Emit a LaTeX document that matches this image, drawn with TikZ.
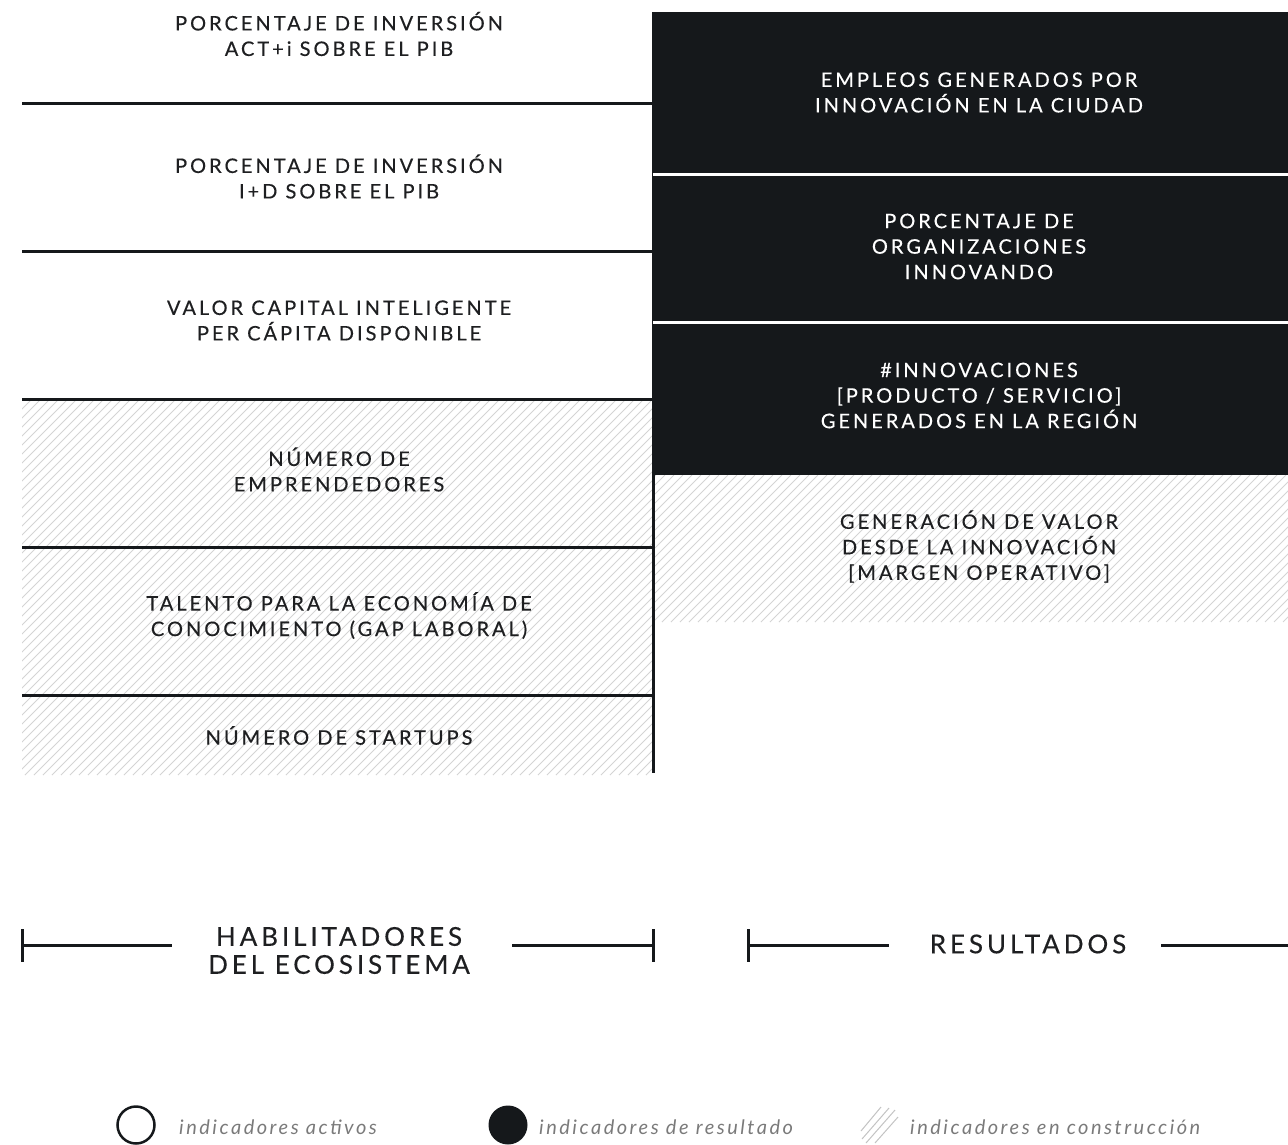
\documentclass[tikz,border=0pt]{standalone}
\usepackage{fontspec}
\setmainfont{Lato}
\newfontfamily\boxfont[LetterSpace=15,FakeBold=0.4]{Lato}
\newfontfamily\headfont[LetterSpace=15,FakeBold=0.3]{Lato}
\newfontfamily\legfont[LetterSpace=12.5]{Lato}
\definecolor{ink}{HTML}{15181B}
\definecolor{txt}{HTML}{1E1F21}
\definecolor{hatch}{HTML}{D4D4D4}
\definecolor{leg}{HTML}{7A7A7A}
\tikzset{
  boxtext/.style={align=center, text=txt, font=\boxfont\fontsize{20}{25.5}\selectfont, inner sep=0pt},
  darktext/.style={boxtext, text=white},
  headtext/.style={align=center, text=txt, font=\headfont\fontsize{26}{28}\selectfont, inner sep=0pt},
  legtext/.style={anchor=west, text=leg, font=\legfont\itshape\fontsize{20}{22}\selectfont, inner sep=0pt},
  rule/.style={ink, line width=3pt},
  sep/.style={white, line width=3pt},
  hatchline/.style={hatch, line width=1pt},
  tick/.style={ink, line width=3pt},
}
\begin{document}
\begin{tikzpicture}[x=1pt,y=-1pt]
\useasboundingbox (0,0) rectangle (1288,1144);
% hatched region left
\begin{scope}
  \clip (22,399) rectangle (652,775);
  \foreach \i in {-380,-371,...,660} { \draw[hatchline] (\i,775) -- ++(376,-376); }
\end{scope}
% hatched region right
\begin{scope}
  \clip (655,475) rectangle (1288,622);
  \foreach \i in {500,509,...,1300} { \draw[hatchline] (\i,622) -- ++(147,-147); }
\end{scope}
% dark block
\fill[ink] (652,12) rectangle (1288,475);
\draw[sep] (653,174.5) -- (1288,174.5);
\draw[sep] (653,322.5) -- (1288,322.5);
% left rules
\coordinate (r1a) at (22,103); \coordinate (r1b) at (652,103);
\coordinate (r2a) at (22,251); \coordinate (r2b) at (652,251);
\coordinate (r3a) at (22,399); \coordinate (r3b) at (652,399);
\coordinate (r4a) at (22,547); \coordinate (r4b) at (652,547);
\coordinate (r5a) at (22,695); \coordinate (r5b) at (652,695);
\draw[rule] (r1a) -- (r1b);
\draw[rule] (r2a) -- (r2b);
\draw[rule] (r3a) -- (r3b);
\draw[rule] (r4a) -- (r4b);
\draw[rule] (r5a) -- (r5b);
\coordinate (va) at (653.5,474); \coordinate (vb) at (653.5,773);
\draw[rule] (va) -- (vb);
% left texts
\node[boxtext] (l1) at (339,34) {PORCENTAJE DE INVERSIÓN\\ACT+i SOBRE EL PIB};
\node[boxtext] (l2) at (339,176.5) {PORCENTAJE DE INVERSIÓN\\I+D SOBRE EL PIB};
\node[boxtext] (l3) at (339,320.5) {VALOR CAPITAL INTELIGENTE\\PER CÁPITA DISPONIBLE};
\node[boxtext] (l4) at (339,469.5) {NÚMERO DE\\EMPRENDEDORES};
\node[boxtext] (l5) at (339,615.5) {TALENTO PARA LA ECONOMÍA DE\\CONOCIMIENTO (GAP LABORAL)};
\node[boxtext] (l6) at (339,735.5) {NÚMERO DE STARTUPS};
% right texts
\node[darktext] (d1) at (979,92.5) {EMPLEOS GENERADOS POR\\INNOVACIÓN EN LA CIUDAD};
\node[darktext] (d2) at (979,246.5) {PORCENTAJE DE\\ORGANIZACIONES\\INNOVANDO};
\node[darktext] (d3) at (979,395.5) {\#INNOVACIONES\\{}[PRODUCTO / SERVICIO]\\GENERADOS EN LA REGIÓN};
\node[boxtext] (d4) at (979,546.5) {GENERACIÓN DE VALOR\\DESDE LA INNOVACIÓN\\{}[MARGEN OPERATIVO]};
% bottom headings
\node[headtext] (h1) at (339,950.5) {HABILITADORES\\DEL ECOSISTEMA};
\coordinate (h1l) at (22,945); \coordinate (h1la) at (172,945);
\coordinate (h1rb) at (512,945); \coordinate (h1r) at (653,945);
\draw[tick] (h1l) -- (h1la);
\draw[tick] (h1rb) -- (h1r);
\draw[tick] (22,929) -- (22,962);
\draw[tick] (653,929) -- (653,962);
\node[headtext] (h2) at (1028,944) {RESULTADOS};
\coordinate (h2l) at (748,945); \coordinate (h2la) at (889,945);
\coordinate (h2rb) at (1161,945); \coordinate (h2r) at (1288,945);
\draw[tick] (h2l) -- (h2la);
\draw[tick] (h2rb) -- (h2r);
\draw[tick] (748,929) -- (748,962);
% legend
\node[circle, draw=ink, line width=2.5pt, minimum size=37pt, inner sep=0pt] (c1) at (136,1125) {};
\node[legtext] (t1) at (179,1127) {indicadores activos};
\node[circle, fill=ink, minimum size=39pt, inner sep=0pt] (c2) at (508,1125) {};
\node[legtext] (t2) at (539,1127) {indicadores de resultado};
\begin{scope}
  \draw[hatch!80!gray, line width=1pt] (861,1131) -- (881,1107);
  \draw[hatch!80!gray, line width=1pt] (862,1139) -- (889,1108);
  \draw[hatch!80!gray, line width=1pt] (866,1143) -- (895,1110);
  \draw[hatch!80!gray, line width=1pt] (875,1143) -- (898,1117);
\end{scope}
\node[legtext] (t3) at (910,1127) {indicadores en construcción};
\end{tikzpicture}
\end{document}
